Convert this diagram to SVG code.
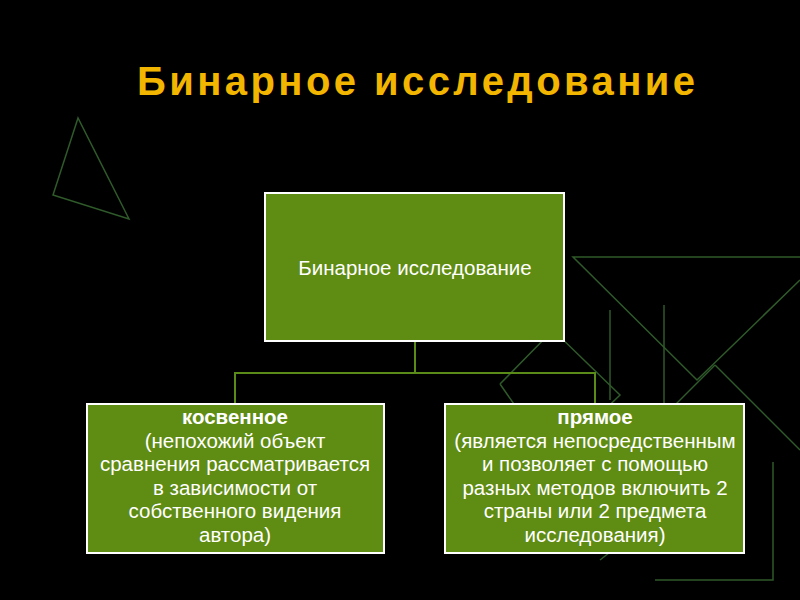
<svg xmlns="http://www.w3.org/2000/svg" width="800" height="600" viewBox="0 0 800 600">
<style>
.deco{fill:none;stroke:#2f5a2a;stroke-width:1.5}
.box{fill:#5f8c12;stroke:#ffffff;stroke-width:2}
.t{font-family:"Liberation Sans",Arial,sans-serif;font-size:20.5px;fill:#ffffff;text-anchor:middle}
.b{font-weight:bold}
.conn{fill:none;stroke:#5a8a18;stroke-width:2}
</style>
<rect width="800" height="600" fill="#000"/>
<g id="decor">
<polygon class="deco" points="78,118 53,195 129,219"/>
<polyline class="deco" points="800,257 573,257 697,380 800,280"/>
<polyline class="deco" points="664,305 664,420 610,480"/>
<polyline class="deco" points="500,384 553,330 620,395 553,460 500,384"/>
<polyline class="deco" points="610,310 610,400"/>
<polyline class="deco" points="715,365 800,450"/>
<polyline class="deco" points="715,365 640,440"/>
<polyline class="deco" points="773,462 773,580 655,580"/>
<polyline class="deco" points="600,560 740,450"/>
</g>
<text x="137" y="95" textLength="558" lengthAdjust="spacing" font-family="Liberation Sans,Arial,sans-serif" font-size="40" font-weight="bold" fill="#f2b600">Бинарное исследование</text>
<g id="connectors">
<polyline class="conn" points="415,341 415,373"/>
<polyline class="conn" points="235,404 235,373 595,373 595,404"/>
</g>
<g id="root">
<rect class="box" x="265" y="193" width="299" height="148"/>
<text class="t" x="415" y="275">Бинарное исследование</text>
</g>
<g id="left">
<rect class="box" x="87" y="404" width="297" height="149"/>
<text class="t" x="235" y="424"><tspan class="b" x="235">косвенное</tspan><tspan x="235" dy="23.6">(непохожий объект</tspan><tspan x="235" dy="23.6">сравнения рассматривается</tspan><tspan x="235" dy="23.6">в зависимости от</tspan><tspan x="235" dy="23.6">собственного видения</tspan><tspan x="235" dy="23.6">автора)</tspan></text>
</g>
<g id="right">
<rect class="box" x="445" y="404" width="299" height="149"/>
<text class="t" x="595" y="424"><tspan class="b" x="595">прямое</tspan><tspan x="595" dy="23.6">(является непосредственным</tspan><tspan x="595" dy="23.6">и позволяет с помощью</tspan><tspan x="595" dy="23.6">разных методов включить 2</tspan><tspan x="595" dy="23.6">страны или 2 предмета</tspan><tspan x="595" dy="23.6">исследования)</tspan></text>
</g>
</svg>
